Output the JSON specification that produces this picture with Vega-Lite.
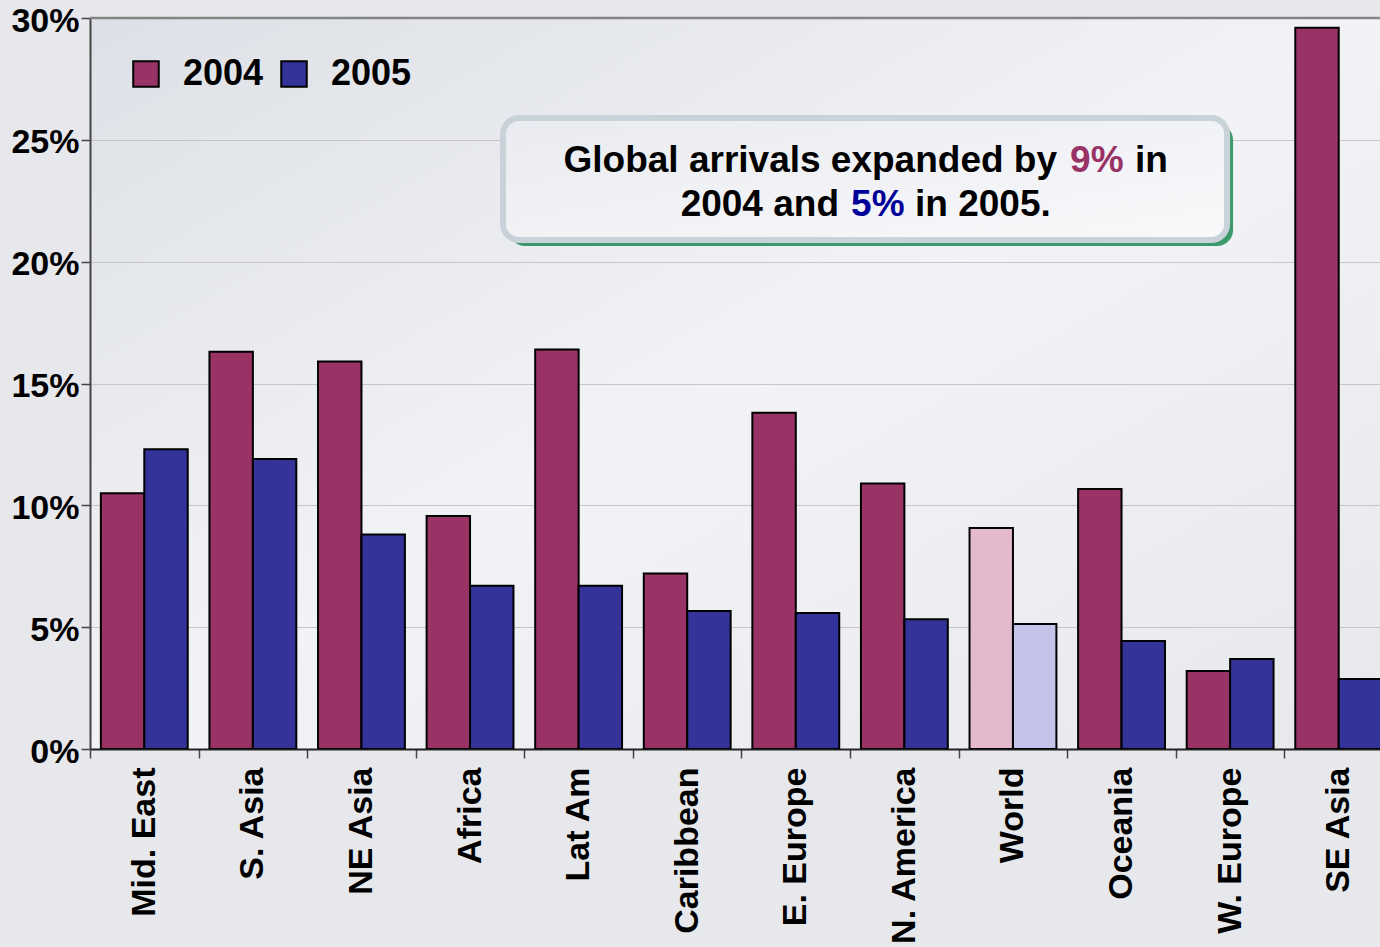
{
  "$schema": "https://vega.github.io/schema/vega-lite/v6.json",
  "width": 1290,
  "height": 731,
  "autosize": {"type": "none"},
  "padding": {"left": 90, "top": 18, "right": 0, "bottom": 198},
  "background": "#e6e8ec",
  "config": {
    "font": "Liberation Sans",
    "view": {
      "stroke": null,
      "fill": {"gradient": "linear", "x1": 0, "y1": 0, "x2": 1, "y2": 1, "stops": [{"offset": 0, "color": "#dde0e6"}, {"offset": 0.5, "color": "#f2f3f6"}, {"offset": 1, "color": "#e6e8ec"}]}
    }
  },
  "resolve": {"scale": {"x": "independent"}},
  "layer": [
    {
      "data": {"values": [
        {"region": "Mid. East", "year": "2004", "growth": 0.105},
        {"region": "Mid. East", "year": "2005", "growth": 0.123},
        {"region": "S. Asia", "year": "2004", "growth": 0.163},
        {"region": "S. Asia", "year": "2005", "growth": 0.119},
        {"region": "NE Asia", "year": "2004", "growth": 0.159},
        {"region": "NE Asia", "year": "2005", "growth": 0.088},
        {"region": "Africa", "year": "2004", "growth": 0.0956},
        {"region": "Africa", "year": "2005", "growth": 0.067},
        {"region": "Lat Am", "year": "2004", "growth": 0.164},
        {"region": "Lat Am", "year": "2005", "growth": 0.067},
        {"region": "Caribbean", "year": "2004", "growth": 0.072},
        {"region": "Caribbean", "year": "2005", "growth": 0.0566},
        {"region": "E. Europe", "year": "2004", "growth": 0.138},
        {"region": "E. Europe", "year": "2005", "growth": 0.0558},
        {"region": "N. America", "year": "2004", "growth": 0.109},
        {"region": "N. America", "year": "2005", "growth": 0.0533},
        {"region": "World", "year": "2004", "growth": 0.0907},
        {"region": "World", "year": "2005", "growth": 0.0513},
        {"region": "Oceania", "year": "2004", "growth": 0.1067},
        {"region": "Oceania", "year": "2005", "growth": 0.0443},
        {"region": "W. Europe", "year": "2004", "growth": 0.032},
        {"region": "W. Europe", "year": "2005", "growth": 0.0369},
        {"region": "SE Asia", "year": "2004", "growth": 0.296},
        {"region": "SE Asia", "year": "2005", "growth": 0.0287}
      ]},
      "mark": {"type": "bar", "stroke": "black", "strokeWidth": 2, "clip": true},
      "encoding": {
        "x": {
          "field": "region", "type": "nominal", "sort": null,
          "scale": {"range": [0, 1303], "paddingInner": 0.2, "paddingOuter": 0.1},
          "axis": {
            "title": null, "labelAngle": -90, "labelAlign": "right", "labelBaseline": "middle",
            "labelFontSize": 34, "labelFontWeight": "bold", "labelColor": "black",
            "tickOffset": -54.3, "labelOffset": 54.3, "tickSize": 9, "tickColor": "#444444", "tickWidth": 1.5,
            "domainColor": "#222222", "domainWidth": 2, "labelPadding": 9, "grid": false
          }
        },
        "xOffset": {"field": "year", "type": "nominal"},
        "y": {
          "field": "growth", "type": "quantitative",
          "scale": {"domain": [0, 0.3]},
          "axis": {
            "title": null, "values": [0, 0.05, 0.1, 0.15, 0.2, 0.25, 0.3], "format": ".0%",
            "labelFontSize": 34, "labelFontWeight": "bold", "labelColor": "black",
            "tickSize": 9, "tickColor": "#444444", "tickWidth": 1.5, "labelPadding": 2,
            "labelOffset": 3,
            "domainColor": "#444444", "domainWidth": 2,
            "grid": true, "gridColor": "#c6c6c6", "gridWidth": 1
          }
        },
        "fill": {
          "field": "year", "type": "nominal",
          "scale": {"domain": ["2004", "2005"], "range": ["#993366", "#333399"]},
          "condition": [
            {"test": "datum.region === 'World' && datum.year === '2004'", "value": "#e5b9cd"},
            {"test": "datum.region === 'World' && datum.year === '2005'", "value": "#c4c4ea"}
          ],
          "legend": {
            "orient": "none", "legendX": 38, "legendY": 38, "direction": "horizontal", "title": null,
            "symbolType": "square", "symbolSize": 650, "symbolStrokeColor": "black", "symbolStrokeWidth": 2,
            "symbolOpacity": 1, "labelFontSize": 36, "labelFontWeight": "bold", "labelColor": "black",
            "labelOffset": 19, "columnPadding": 12
          }
        }
      }
    },
    {
      "data": {"values": [{}]},
      "mark": {"type": "rule", "color": "#858585", "strokeWidth": 2.5},
      "encoding": {"y": {"datum": 0.3, "type": "quantitative"}}
    },
    {
      "data": {"values": [{}]},
      "mark": {"type": "rect", "cornerRadius": 16, "fill": "#3a9a6c"},
      "encoding": {
        "x": {"datum": 3.859, "type": "quantitative", "scale": {"domain": [0, 12], "range": [0, 1303]}, "axis": null},
        "x2": {"datum": 10.527},
        "y": {"datum": 0.2565, "type": "quantitative"},
        "y2": {"datum": 0.20643}
      }
    },
    {
      "data": {"values": [{}]},
      "mark": {
        "type": "rect", "cornerRadius": 16, "stroke": "#c9d1d9", "strokeWidth": 6,
        "fill": {"gradient": "linear", "x1": 0, "y1": 0, "x2": 1, "y2": 1, "stops": [{"offset": 0, "color": "#e9ebf0"}, {"offset": 1, "color": "#f9f9fb"}]}
      },
      "encoding": {
        "x": {"datum": 3.804, "type": "quantitative", "scale": {"domain": [0, 12], "range": [0, 1303]}, "axis": null},
        "x2": {"datum": 10.472},
        "y": {"datum": 0.25896, "type": "quantitative"},
        "y2": {"datum": 0.2089}
      }
    },
    {
      "data": {"values": [{}]},
      "mark": {"type": "text", "text": "Global arrivals expanded by", "align": "right", "baseline": "alphabetic", "fontSize": 37, "fontWeight": "bold", "color": "black"},
      "encoding": {
        "x": {"datum": 8.906, "type": "quantitative", "scale": {"domain": [0, 12], "range": [0, 1303]}, "axis": null},
        "y": {"datum": 0.2368, "type": "quantitative"}
      }
    },
    {
      "data": {"values": [{}]},
      "mark": {"type": "text", "text": "9%", "align": "left", "baseline": "alphabetic", "fontSize": 37, "fontWeight": "bold", "color": "#993366"},
      "encoding": {
        "x": {"datum": 9.026, "type": "quantitative", "scale": {"domain": [0, 12], "range": [0, 1303]}, "axis": null},
        "y": {"datum": 0.2368, "type": "quantitative"}
      }
    },
    {
      "data": {"values": [{}]},
      "mark": {"type": "text", "text": "in", "align": "left", "baseline": "alphabetic", "fontSize": 37, "fontWeight": "bold", "color": "black"},
      "encoding": {
        "x": {"datum": 9.624, "type": "quantitative", "scale": {"domain": [0, 12], "range": [0, 1303]}, "axis": null},
        "y": {"datum": 0.2368, "type": "quantitative"}
      }
    },
    {
      "data": {"values": [{}]},
      "mark": {"type": "text", "text": "2004 and", "align": "right", "baseline": "alphabetic", "fontSize": 37, "fontWeight": "bold", "color": "black"},
      "encoding": {
        "x": {"datum": 6.898, "type": "quantitative", "scale": {"domain": [0, 12], "range": [0, 1303]}, "axis": null},
        "y": {"datum": 0.2187, "type": "quantitative"}
      }
    },
    {
      "data": {"values": [{}]},
      "mark": {"type": "text", "text": "5%", "align": "left", "baseline": "alphabetic", "fontSize": 37, "fontWeight": "bold", "color": "#000099"},
      "encoding": {
        "x": {"datum": 7.009, "type": "quantitative", "scale": {"domain": [0, 12], "range": [0, 1303]}, "axis": null},
        "y": {"datum": 0.2187, "type": "quantitative"}
      }
    },
    {
      "data": {"values": [{}]},
      "mark": {"type": "text", "text": "in 2005.", "align": "left", "baseline": "alphabetic", "fontSize": 37, "fontWeight": "bold", "color": "black"},
      "encoding": {
        "x": {"datum": 7.598, "type": "quantitative", "scale": {"domain": [0, 12], "range": [0, 1303]}, "axis": null},
        "y": {"datum": 0.2187, "type": "quantitative"}
      }
    }
  ]
}
